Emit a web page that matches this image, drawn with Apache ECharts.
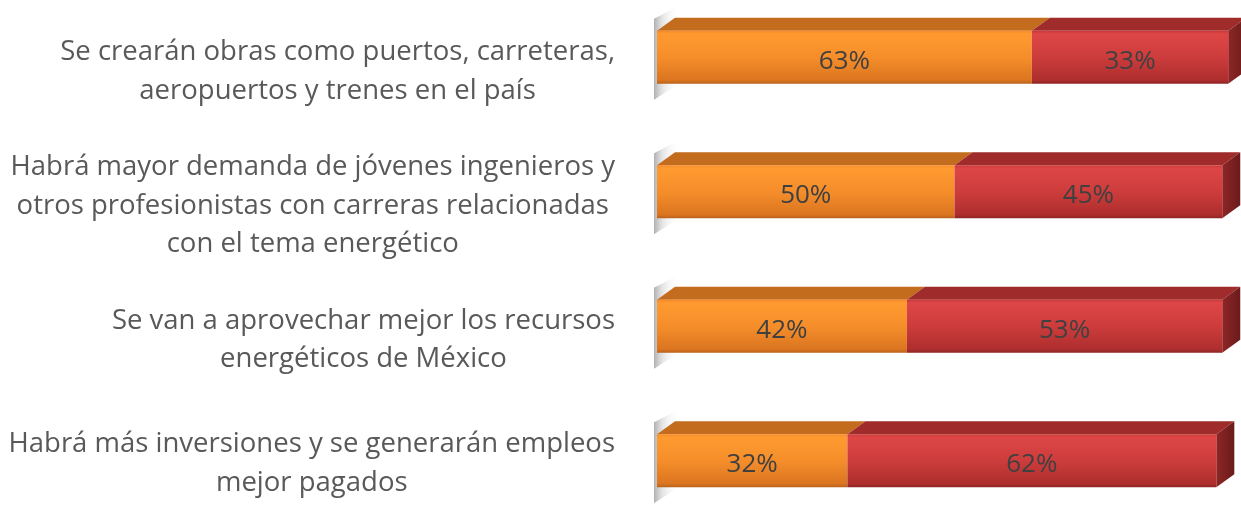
<!DOCTYPE html>
<html><head><meta charset="utf-8">
<script src="https://cdn.jsdelivr.net/npm/echarts@6/dist/echarts.min.js"></script>
<style>html,body{margin:0;padding:0;background:#fff}#c{width:1241px;height:508px}</style>
</head><body><div id="c"></div>
<script>
const categories = [
  'Se crearán obras como puertos, carreteras,\naeropuertos y trenes en el país',
  'Habrá mayor demanda de jóvenes ingenieros y\notros profesionistas con carreras relacionadas\ncon el tema energético',
  'Se van a aprovechar mejor los recursos\nenergéticos de México',
  'Habrá más inversiones y se generarán empleos\nmejor pagados'
];
const seriesA = [63, 50, 42, 32];
const seriesB = [33, 45, 53, 62];

const FONT = '"Open Sans"';
const DX = 18, DY = 13;
const labelPadTop = [29, 28, 28, 6];

const dataA = seriesA.map((v, i) => [i, 0, v]);
const dataB = seriesB.map((v, i) => [i, seriesA[i], seriesA[i] + v]);

function grad(stops) {
  return new echarts.graphic.LinearGradient(0, 0, 0, 1, stops.map(s => ({offset: s[0], color: s[1]})));
}

function makeRender(front, topC, sideC, isFirst, isLast) {
  return function (params, api) {
    const cat = api.value(0), s = api.value(1), e = api.value(2);
    const p0 = api.coord([s, cat]);
    const p1 = api.coord([e, cat]);
    const h = api.size([0, 1])[1] * 0.395;
    const x0 = p0[0], x1 = p1[0], yc = p0[1];
    const top = yc - h / 2, bot = yc + h / 2;
    const children = [];
    if (isFirst) {
      children.push({
        type: 'polygon', silent: true,
        shape: {points: [[x0 - 3, top - 12], [x0 + DX + 4, top - DY - 12], [x0 + DX + 4, bot], [x0 - 3, bot + 16]]},
        style: {fill: new echarts.graphic.LinearGradient(0, 0, 1, 0, [
          {offset: 0, color: 'rgba(110,110,110,0.55)'},
          {offset: 0.35, color: 'rgba(170,170,170,0.3)'},
          {offset: 1, color: 'rgba(255,255,255,0)'}])}
      });
    }
    children.push({
      type: 'polygon',
      shape: {points: [[x0, top], [x0 + DX, top - DY], [x1 + DX, top - DY], [x1, top]]},
      style: {fill: topC}
    });
    if (isLast) {
      children.push({
        type: 'polygon',
        shape: {points: [[x1, top], [x1 + DX, top - DY], [x1 + DX, bot - DY], [x1, bot]]},
        style: {fill: sideC}
      });
    }
    children.push({
      type: 'rect',
      shape: {x: x0, y: top, width: x1 - x0, height: h},
      style: {fill: front}
    });
    children.push({
      type: 'text',
      style: {
        text: (e - s) + '%', x: (x0 + x1) / 2, y: yc + 4,
        align: 'center', verticalAlign: 'middle',
        fill: '#404040', font: '26px ' + FONT
      }
    });
    return {type: 'group', children: children};
  };
}

const orangeFront = grad([[0, '#F58A28'], [0.06, '#FF9A30'], [0.5, '#F58E2A'], [0.93, '#DB7520'], [1, '#B9611A']]);
const redFront = grad([[0, '#C83838'], [0.06, '#DE4646'], [0.5, '#CD3C3C'], [0.93, '#AE2E2E'], [1, '#8E2424']]);
const redSide = new echarts.graphic.LinearGradient(0, 0, 1, 0, [{offset: 0, color: '#8E2626'}, {offset: 1, color: '#6A1B1B'}]);

const chart = echarts.init(document.getElementById('c'), null, {renderer: 'canvas'});
chart.setOption({
  animation: false,
  grid: {left: 657, width: 595, top: -10, height: 538, outerBoundsMode: 'none', containLabel: false},
  xAxis: {type: 'value', min: 0, max: 100, show: false},
  yAxis: {
    type: 'category', inverse: true,
    data: categories.map((c, i) => ({value: c, textStyle: {padding: [labelPadTop[i], 0, 0, 0]}})),
    axisLine: {show: false}, axisTick: {show: false}, splitLine: {show: false},
    axisLabel: {
      margin: 42, align: 'right',
      formatter: v => v.split('\n').map(l => '{c|' + l + '}').join('\n'),
      rich: {c: {align: 'center', fontFamily: FONT, fontSize: 27.5, lineHeight: 38.5, color: '#595959'}}
    }
  },
  series: [
    {type: 'custom', data: dataA, encode: {x: [1, 2], y: 0}, renderItem: makeRender(orangeFront, '#C36C1E', null, true, false)},
    {type: 'custom', data: dataB, encode: {x: [1, 2], y: 0}, renderItem: makeRender(redFront, '#9F2B2B', redSide, false, true)}
  ]
});
</script></body></html>
